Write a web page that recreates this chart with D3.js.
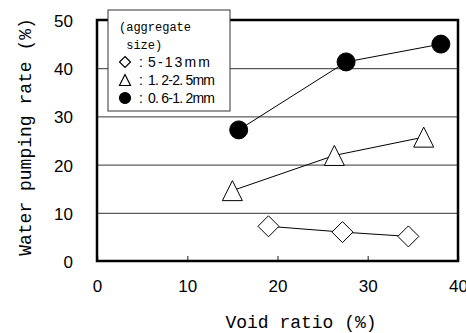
<!DOCTYPE html>
<html>
<head>
<meta charset="utf-8">
<script src="https://cdn.jsdelivr.net/npm/d3@7"></script>
<style>
  body { margin: 0; background: #fff; }
  svg { display: block; }
  .tick text { font-family: 'Liberation Sans', Arial, sans-serif; font-size: 17px; fill: #000; }
  .title { font-family: 'Liberation Mono', monospace; font-size: 18px; fill: #000; }
</style>
</head>
<body>
<div id="chart"></div>
<script>
// values
const xTicks = [0, 10, 20, 30, 40]
const yTicks = [0, 10, 20, 30, 40, 50]

const coarseVoid = [19.0, 27.2, 34.5]
const coarseRate = [7.2, 6.0, 5.1]
const midVoid = [15.0, 26.3, 36.2]
const midRate = [14.6, 21.9, 25.7]
const fineVoid = [15.7, 27.6, 38.1]
const fineRate = [27.2, 41.3, 45.0]

const legendHead = ['(aggregate', ' size)']
const legendNames = ['5-13mm', '1. 2-2. 5mm', '0. 6-1. 2mm']
const seriesKeys = ['diamond', 'triangle', 'circle']

const dms = {
  width: 466,
  height: 333,
  margin: { top: 20, right: 8, bottom: 72, left: 97 }
}
dms.contentWidth = dms.width - dms.margin.left - dms.margin.right
dms.contentHeight = dms.height - dms.margin.top - dms.margin.bottom

const svg = d3.select('#chart').append('svg')
  .attr('width', dms.width)
  .attr('height', dms.height)

const content = svg.append('g')
  .attr('transform', `translate(${dms.margin.left},${dms.margin.top})`)

const xScale = d3.scaleLinear().domain([0, 40]).range([0, dms.contentWidth])
const yScale = d3.scaleLinear().domain([0, 50]).range([dms.contentHeight, 0])

// gridlines
const grid = content.append('g')
  .call(d3.axisLeft(yScale).tickValues(yTicks.slice(1, -1)).tickSize(-dms.contentWidth).tickFormat(''))
grid.select('.domain').remove()
grid.selectAll('line').attr('stroke', '#333').attr('stroke-width', 1)

// y labels
const yAxis = content.append('g')
  .call(d3.axisLeft(yScale).tickValues(yTicks).tickSize(0).tickPadding(24))
yAxis.select('.domain').remove()
yAxis.selectAll('text').attr('dy', '0.38em')

// x axis, ticks point inward
const xAxis = content.append('g')
  .attr('transform', `translate(0,${dms.contentHeight})`)
  .call(d3.axisBottom(xScale).tickValues(xTicks).tickSizeInner(-5).tickSizeOuter(0).tickFormat(d3.format('d')))
xAxis.select('.domain').remove()
xAxis.selectAll('line').attr('stroke', '#666').attr('stroke-width', 1.5)
xAxis.selectAll('text').attr('y', 19).attr('dy', '0.71em')

// frame
content.append('rect')
  .attr('width', dms.contentWidth)
  .attr('height', dms.contentHeight)
  .attr('fill', 'none')
  .attr('stroke', '#000')
  .attr('stroke-width', 2.5)

// series
const series = [
  { key: 'diamond', pts: coarseVoid.map((v, i) => [v, coarseRate[i]]) },
  { key: 'triangle', pts: midVoid.map((v, i) => [v, midRate[i]]) },
  { key: 'circle', pts: fineVoid.map((v, i) => [v, fineRate[i]]) }
]

const lineGen = d3.line()
  .x(d => xScale(d[0]))
  .y(d => yScale(d[1]))

function markerPath(key, s) {
  const p = d3.path()
  if (key === 'diamond') {
    p.moveTo(0, -s); p.lineTo(s, 0); p.lineTo(0, s); p.lineTo(-s, 0); p.closePath()
  } else if (key === 'triangle') {
    p.moveTo(0, -s); p.lineTo(s, s); p.lineTo(-s, s); p.closePath()
  } else {
    p.arc(0, 0, s, 0, 2 * Math.PI)
  }
  return p.toString()
}

const markerSize = { diamond: 10.5, triangle: 10, circle: 9 }

series.forEach(sr => {
  const g = content.append('g')
  g.append('path')
    .attr('d', lineGen(sr.pts))
    .attr('fill', 'none')
    .attr('stroke', '#000')
    .attr('stroke-width', 1)
  g.selectAll('path.mk')
    .data(sr.pts)
    .join('path')
    .attr('class', 'mk')
    .attr('transform', d => `translate(${xScale(d[0])},${yScale(d[1])})`)
    .attr('d', markerPath(sr.key, markerSize[sr.key]))
    .attr('fill', sr.key === 'circle' ? '#000' : '#fff')
    .attr('stroke', '#000')
    .attr('stroke-width', 1)
})

// legend
const legend = svg.append('g').attr('transform', 'translate(108,10)')
legend.append('rect')
  .attr('width', 122)
  .attr('height', 101)
  .attr('fill', '#fff')
  .attr('stroke', '#333')
  .attr('stroke-width', 1)

legend.selectAll('text.head')
  .data(legendHead)
  .join('text')
  .attr('class', 'head')
  .attr('x', 11)
  .attr('y', (d, i) => 21 + i * 18)
  .attr('xml:space', 'preserve')
  .style('font-family', "'Liberation Mono', monospace")
  .style('font-size', '12px')
  .style('white-space', 'pre')
  .text(d => d)

const rows = legend.selectAll('g.row')
  .data(legendNames)
  .join('g')
  .attr('class', 'row')
  .attr('transform', (d, i) => `translate(0,${57 + i * 18})`)

rows.append('path')
  .attr('transform', 'translate(17,-5)')
  .attr('d', (d, i) => markerPath(seriesKeys[i], 5.5))
  .attr('fill', (d, i) => seriesKeys[i] === 'circle' ? '#000' : '#fff')
  .attr('stroke', '#000')
  .attr('stroke-width', 1.2)

rows.append('text')
  .attr('x', 31)
  .style('font-family', "'Liberation Sans', Arial, sans-serif")
  .style('font-size', '14px')
  .text(':')

rows.append('text')
  .attr('x', 40)
  .attr('textLength', (d, i) => i === 0 ? 62 : 67)
  .attr('lengthAdjust', 'spacing')
  .style('font-family', "'Liberation Sans', Arial, sans-serif")
  .style('font-size', '14px')
  .text(d => d)

// axis titles
svg.append('text')
  .attr('class', 'title')
  .attr('x', 301)
  .attr('y', 328)
  .attr('text-anchor', 'middle')
  .text('Void ratio (%)')

svg.append('text')
  .attr('class', 'title')
  .attr('transform', 'translate(31,137) rotate(-90)')
  .attr('text-anchor', 'middle')
  .text('Water pumping rate (%)')
</script>
</body>
</html>
